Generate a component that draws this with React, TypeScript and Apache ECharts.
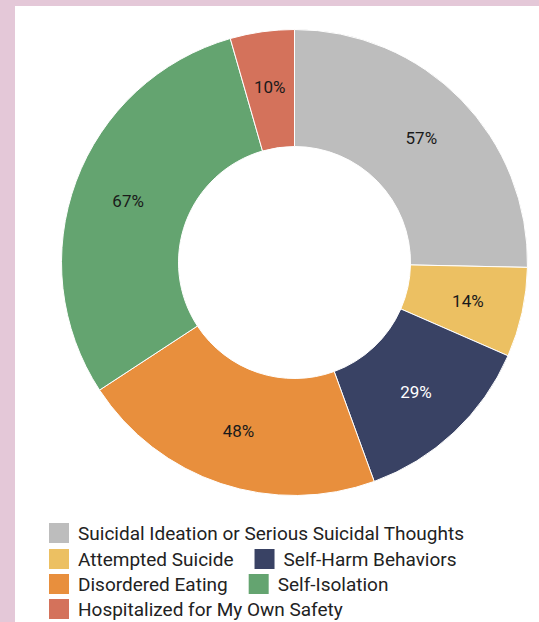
import React, { useEffect, useRef } from "react";
import * as echarts from "echarts";

const categories = [
  "Suicidal Ideation or Serious Suicidal Thoughts",
  "Attempted Suicide",
  "Self-Harm Behaviors",
  "Disordered Eating",
  "Self-Isolation",
  "Hospitalized for My Own Safety",
];
const values = [57, 14, 29, 48, 67, 10];
const colors = ["#bdbdbd", "#ecc062", "#394264", "#e88f3d", "#64a470", "#d4725b"];
const labelColors = ["#1a1a1a", "#1a1a1a", "#ffffff", "#1a1a1a", "#1a1a1a", "#1a1a1a"];
const legendRows = [
  [categories[0]],
  [categories[1], categories[2]],
  [categories[3], categories[4]],
  [categories[5]],
];

export default function App() {
  const ref = useRef<HTMLDivElement>(null);
  useEffect(() => {
    document.body.style.margin = "0";
    const chart = echarts.init(ref.current!, null, { renderer: "svg" });
    const rowTops = [515, 541, 566, 591];
    chart.setOption({
      animation: false,
      backgroundColor: "#ffffff",
      legend: legendRows.map((row, i) => ({
        show: true,
        data: row,
        left: 32,
        top: rowTops[i],
        orient: "horizontal",
        padding: 0,
        itemWidth: 22,
        itemHeight: 22,
        itemGap: 19,
        icon: "rect",
        selectedMode: false,
        textStyle: {
          fontFamily: "Roboto",
          fontSize: 19,
          color: "#222222",
          padding: [0, 0, 0, 3],
        },
      })),
      series: [
        {
          type: "pie",
          center: [279.5, 256.5],
          radius: [116, 233],
          startAngle: 90,
          clockwise: true,
          avoidLabelOverlap: false,
          itemStyle: { borderColor: "#ffffff", borderWidth: 1 },
          label: {
            show: true,
            position: "inside",
            fontFamily: "Roboto",
            fontSize: 17,
            formatter: "{c}%",
          },
          labelLine: { show: false },
          emphasis: { disabled: true },
          data: categories.map((name, i) => ({
            name,
            value: values[i],
            itemStyle: { color: colors[i] },
            label: { color: labelColors[i] },
          })),
        },
      ],
    });
    return () => chart.dispose();
  }, []);
  return (
    <div style={{ position: "relative", width: 539, height: 622, background: "#e4c8d8" }}>
      <div
        ref={ref}
        style={{ position: "absolute", left: 15, top: 6, width: 524, height: 616, background: "#ffffff" }}
      />
    </div>
  );
}
